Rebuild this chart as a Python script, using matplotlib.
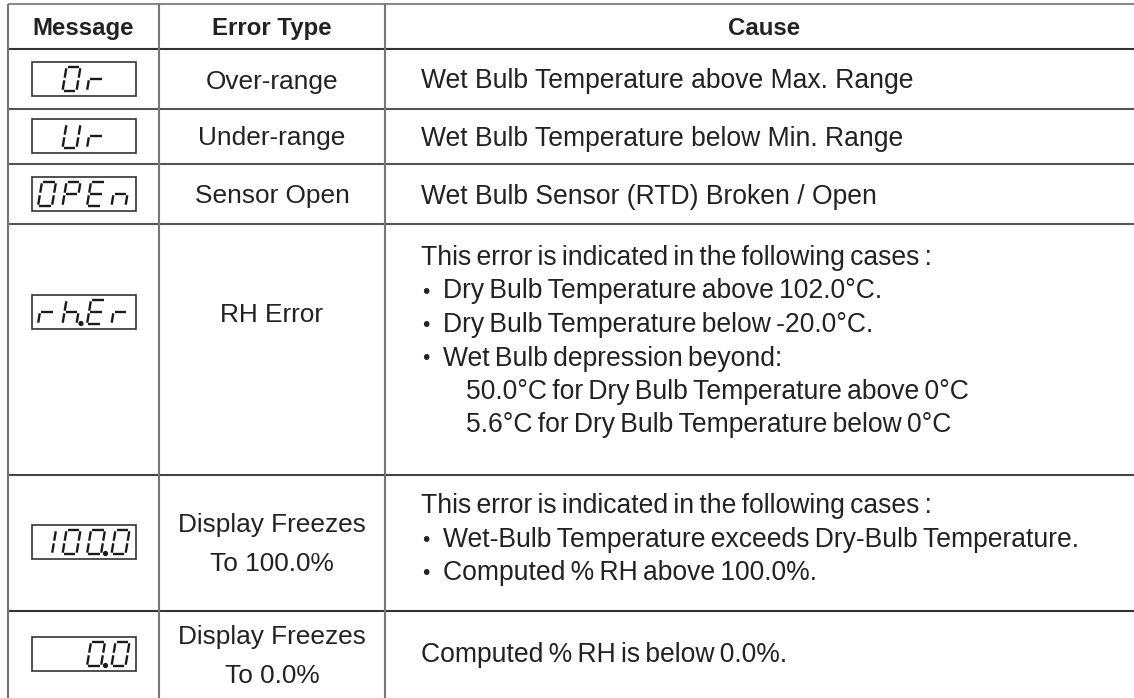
import matplotlib
matplotlib.use("Agg")
import matplotlib.pyplot as plt
from matplotlib.patches import Rectangle, Circle

# ---------------- data ----------------
headers = ["Message", "Error Type", "Cause"]
messages = [" Or ", " Ur ", "OPEn", "rh.Er", "100.0", "  0.0"]
error_types = [
    ["Over-range"],
    ["Under-range"],
    ["Sensor Open"],
    ["RH Error"],
    ["Display Freezes", "To 100.0%"],
    ["Display Freezes", "To 0.0%"],
]
causes = [
    ["Wet Bulb Temperature above Max. Range"],
    ["Wet Bulb Temperature below Min. Range"],
    ["Wet Bulb Sensor (RTD) Broken / Open"],
    ["This error is indicated in the following cases :",
     "\u2022 Dry Bulb Temperature above 102.0\u00b0C.",
     "\u2022 Dry Bulb Temperature below -20.0\u00b0C.",
     "\u2022 Wet Bulb depression beyond:",
     "    50.0\u00b0C for Dry Bulb Temperature above 0\u00b0C",
     "    5.6\u00b0C for Dry Bulb Temperature below 0\u00b0C"],
    ["This error is indicated in the following cases :",
     "\u2022 Wet-Bulb Temperature exceeds Dry-Bulb Temperature.",
     "\u2022 Computed % RH above 100.0%."],
    ["Computed % RH is below 0.0%."],
]
condensed_rows = [False, False, False, True, True, True]

# ---------------- layout (pixels) ----------------
W, H = 1134, 698
row_lines = [4, 49, 109, 164, 224, 475, 611]
row_line_colors = ["#8a8a8a", "#333333", "#555555", "#555555", "#555555", "#444444", "#333333"]
col_lines = [8, 159, 385]
col_centers = [83.5, 272, 764]
cause_x = 421
bullet_text_x = 443
indent_x = 466
box_centers = [79, 136, 194, 312, 542, 654]
type_baselines = [[88.5], [145.5], [203.5], [321.5], [532, 571], [644, 683]]
cause_baselines = [[88.5], [145.5], [203.5],
                   [265, 298.5, 332, 365.5, 399, 432.5],
                   [513, 547, 580],
                   [662]]

TXT = "#222222"
FONT = ["Liberation Sans", "DejaVu Sans"]
TYPE_FS = 18.9
CAUSE_FS = 19.1
HEAD = 17.3

fig = plt.figure(figsize=(W / 100, H / 100), dpi=100)
ax = fig.add_axes([0, 0, 1, 1])
ax.set_xlim(0, W)
ax.set_ylim(H, 0)
ax.axis("off")

# grid
for y, c in zip(row_lines, row_line_colors):
    ax.plot([col_lines[0], W], [y, y], color=c, lw=1.5, solid_capstyle="butt")
for x in col_lines:
    ax.plot([x, x], [row_lines[0], H], color="#777777", lw=1.5, solid_capstyle="butt")

# headers
for cx, h in zip(col_centers, headers):
    ax.text(cx, 35, h, ha="center", va="baseline", fontsize=HEAD,
            fontweight="bold", family=FONT, color=TXT)

# seven segment
SEG = {
    "0": "abcdef", "O": "abcdef", "1": "bc", "r": "eg", "U": "bcdef",
    "P": "abefg", "E": "adefg", "n": "ceg", "h": "cefg", " ": "",
}
dw, dh, slant, gap = 14.0, 24.0, 4.0, 1.3
pitch = 24.5


def seg_pts(s):
    w, h = dw, dh
    return {
        "a": ((0, 0), (w, 0)), "b": ((w, 0), (w, h / 2)),
        "c": ((w, h / 2), (w, h)), "d": ((0, h), (w, h)),
        "e": ((0, h / 2), (0, h)), "f": ((0, 0), (0, h / 2)),
        "g": ((0, h / 2), (w, h / 2)),
    }[s]


def draw_display(x_left, yc, text):
    bw, bh = 104, 34
    ax.add_patch(Rectangle((x_left, yc - bh / 2), bw, bh, fill=False,
                           ec="#333333", lw=1.2))
    chars = []
    for ch in text:
        if ch == "." and chars:
            chars[-1][1] = True
        else:
            chars.append([ch, False])
    y0 = yc - dh / 2
    for i, (ch, dot) in enumerate(chars):
        x0 = x_left + 6 + i * pitch
        for s in SEG.get(ch, ""):
            (xa, ya), (xb, yb) = seg_pts(s)
            L = ((xb - xa) ** 2 + (yb - ya) ** 2) ** 0.5
            ux, uy = (xb - xa) / L, (yb - ya) / L
            xa, ya = xa + ux * gap, ya + uy * gap
            xb, yb = xb - ux * gap, yb - uy * gap
            px = [x0 + xa + slant * (dh - ya) / dh, x0 + xb + slant * (dh - yb) / dh]
            py = [y0 + ya, y0 + yb]
            ax.plot(px, py, color="#1a1a1a", lw=1.7, solid_capstyle="butt")
        if dot:
            ax.add_patch(Circle((x0 + dw + 4.5, y0 + dh - 0.5), 1.9, color="#1a1a1a"))


for yc, m in zip(box_centers, messages):
    draw_display(32, yc, m)

# error types
for lines, bls in zip(error_types, type_baselines):
    for t, b in zip(lines, bls):
        ax.text(col_centers[1], b, t, ha="center", va="baseline", fontsize=TYPE_FS,
                family=FONT, color=TXT)

# causes
for lines, bls, cond in zip(causes, cause_baselines, condensed_rows):
    for t, b in zip(lines, bls):
        x = cause_x
        if t.startswith("    "):
            t = t.strip()
            x = indent_x
        elif t.startswith("\u2022"):
            ax.text(cause_x + 1, b - 1, "\u2022", ha="left", va="baseline", fontsize=15,
                    family=FONT, color=TXT)
            t = t[1:].strip()
            x = bullet_text_x
        if cond:
            t = t.replace(" ", "\u2009")
        ax.text(x, b, t, ha="left", va="baseline", fontsize=CAUSE_FS,
                family=FONT, color=TXT)

fig.savefig("out.png", dpi=100)
